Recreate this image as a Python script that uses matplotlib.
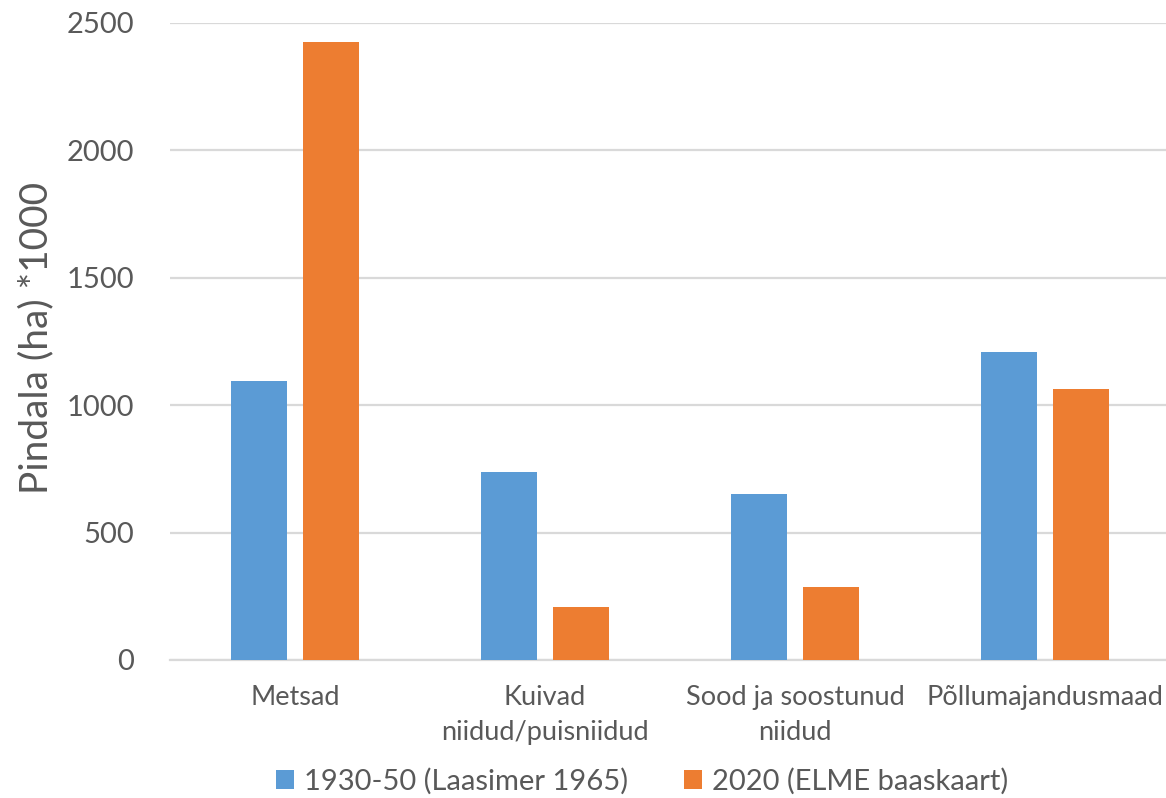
import matplotlib
matplotlib.use("Agg")
import matplotlib.pyplot as plt
from matplotlib.patches import Patch
import numpy as np

categories = ["Metsad", "Kuivad\nniidud/puisniidud", "Sood ja soostunud\nniidud", "Põllumajandusmaad"]
series_names = ["1930-50 (Laasimer 1965)", "2020 (ELME baaskaart)"]
values_1930 = [1095, 737, 650, 1210]
values_2020 = [2425, 208, 288, 1065]
y_ticks = [0, 500, 1000, 1500, 2000, 2500]
y_label = "Pindala (ha) *1000"

blue = "#5B9BD5"
orange = "#ED7D31"
text_col = "#595959"
grid_col = "#D9D9D9"

plt.rcParams["font.family"] = ["Lato", "DejaVu Sans"]

W, H = 1166, 798
fig = plt.figure(figsize=(W / 100, H / 100), dpi=100)
left, right, top, bottom = 170, 1170, 23, 660
ax = fig.add_axes([left / W, 1 - bottom / H, (right - left) / W, (bottom - top) / H])

x = np.arange(len(categories))
width = 0.224
offset = 0.143
ax.bar(x - offset, values_1930, width, color=blue, zorder=3)
ax.bar(x + offset, values_2020, width, color=orange, zorder=3)

ax.set_xlim(-0.5, len(categories) - 0.5)
ax.set_ylim(0, 2500)
ax.set_yticks(y_ticks)
ax.set_yticklabels([str(v) for v in y_ticks], fontsize=21, color=text_col)
ax.yaxis.grid(True, color=grid_col, linewidth=1.6, zorder=0)
ax.set_axisbelow(True)

ax.set_xticks(x)
ax.set_xticklabels(categories, fontsize=19.5, color=text_col, linespacing=1.5)
ax.tick_params(axis="x", length=0, pad=18)
ax.tick_params(axis="y", length=0, pad=26)

for s in ["left", "right", "top"]:
    ax.spines[s].set_visible(False)
ax.spines["bottom"].set_color(grid_col)
ax.spines["bottom"].set_linewidth(1.6)

fig.text(36 / W, 1 - 338 / H, y_label, rotation=90, fontsize=28, color=text_col,
         ha="center", va="center")

handles = [Patch(facecolor=blue), Patch(facecolor=orange)]
leg = fig.legend(handles, series_names, loc="center", bbox_to_anchor=(642 / W, 1 - 781 / H),
                 ncol=2, frameon=False, fontsize=21, handlelength=0.62, handleheight=0.62,
                 handletextpad=0.35, columnspacing=1.9, borderpad=0, borderaxespad=0)
for t in leg.get_texts():
    t.set_color(text_col)

fig.savefig("out.png", dpi=100)
